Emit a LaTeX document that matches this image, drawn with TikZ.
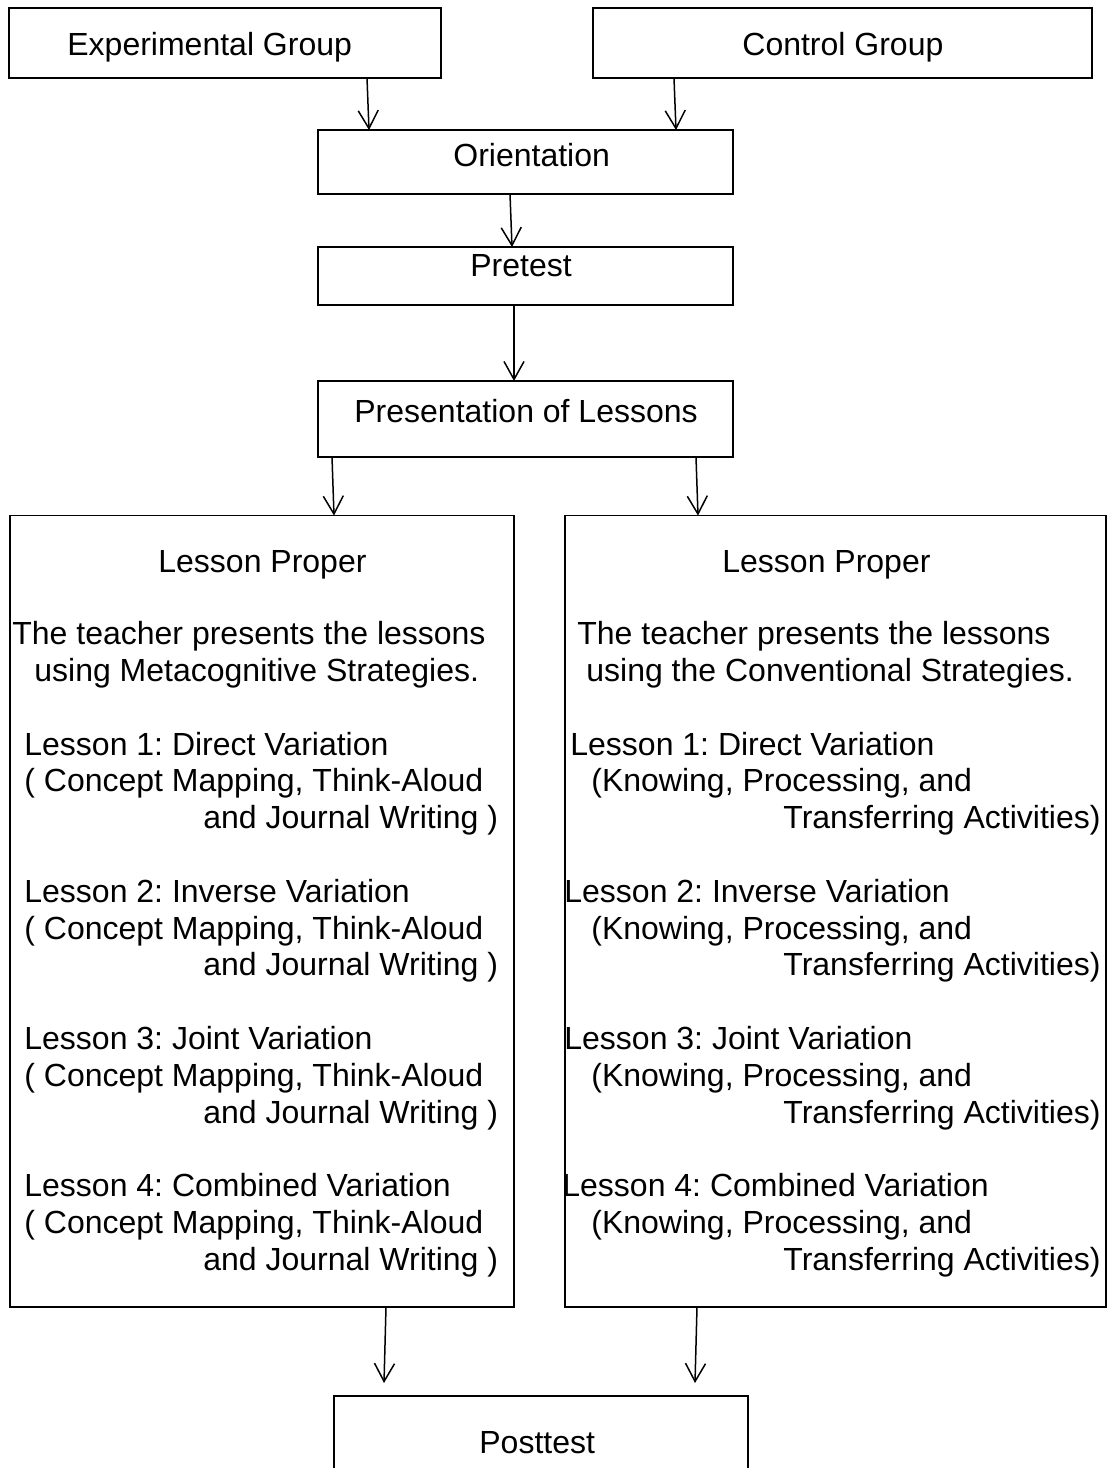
\documentclass[tikz,border=0pt]{standalone}
\usepackage{fontspec}
\setmainfont{Liberation Sans}
\frenchspacing
\usetikzlibrary{arrows.meta,calc}

\tikzset{
  box/.style={draw, line width=0.75pt, inner sep=0pt, outer sep=0pt},
  txt/.style={inner sep=0pt, anchor=base west, font=\fontsize{16}{18.4}\selectfont},
  arr/.style={line width=0.75pt, -{Straight Barb[length=9pt,width=10pt]}}
}

\begin{document}
\begin{tikzpicture}[x=0.5pt, y=-0.5pt]
  \useasboundingbox (0,0) rectangle (1108,1468);

  % boxes
  \node[box, minimum width=216pt,   minimum height=35pt] (expg)    at (225,43) {};
  \node[box, minimum width=249.5pt, minimum height=35pt] (ctrlg)   at (842.5,43) {};
  \node[box, minimum width=207.5pt, minimum height=32pt] (orient)  at (525.5,162) {};
  \node[box, minimum width=207.5pt, minimum height=29pt] (pretest) at (525.5,276) {};
  \node[box, minimum width=207.5pt, minimum height=38pt] (present) at (525.5,419) {};
  \node[box, minimum width=252pt,   minimum height=395.75pt] (expl)  at (262,911.25) {};
  \node[box, minimum width=270.5pt, minimum height=395.75pt] (ctrll) at (835.5,911.25) {};
  \node[box, minimum width=207pt,   minimum height=67pt] (post)    at (541,1463) {};

  % box texts
  \node[txt] (expg-t)    at (67,55)   {Experimental Group};
  \node[txt] (ctrlg-t)   at (742,55)  {Control Group};
  \node[txt] (orient-t)  at (453,166) {Orientation};
  \node[txt] (pretest-t) at (470,276) {Pretest};
  \node[txt] (present-t) at (354,422) {Presentation of Lessons};
  \node[txt] (post-t)    at (479,1453) {Posttest};

  \node[txt] (expl-h)  at (158,572)   {Lesson Proper};
  \node[txt] (expl-a)  at (12,644.5)  {The teacher presents the lessons};
  \node[txt] (expl-b)  at (34,681.3)  {using Metacognitive Strategies.};
  \node[txt] (ctrll-h) at (722,572)   {Lesson Proper};
  \node[txt] (ctrll-a) at (577,644.5) {The teacher presents the lessons};
  \node[txt] (ctrll-b) at (586,681.3) {using the Conventional Strategies.};

  % the four lessons
  \foreach \k/\title/\rx [count=\i from 0] in
      {1/Direct/570, 2/Inverse/564, 3/Joint/564, 4/Combined/562}{
    \node[txt] (expl-l\k)  at (24,{755+147.2*\i})  {Lesson \k: \title{} Variation};
    \node[txt] (expl-m\k)  at (24,{791.8+147.2*\i}) {( Concept Mapping, Think-Aloud};
    \node[txt] (expl-n\k)  at (203,{828.6+147.2*\i}) {and Journal Writing )};
    \node[txt] (ctrll-l\k) at (\rx,{755+147.2*\i})  {Lesson \k: \title{} Variation};
    \node[txt] (ctrll-m\k) at (591,{791.8+147.2*\i}) {(Knowing, Processing, and};
    \node[txt] (ctrll-n\k) at (783,{828.6+147.2*\i}) {Transferring Activities)};
  }

  % arrows
  \draw[arr] ($(expg.south west)+(358,0)$)    -- ($(orient.north west)+(51,0)$);
  \draw[arr] ($(ctrlg.south west)+(81,0)$)    -- ($(orient.north west)+(358,0)$);
  \draw[arr] ($(orient.south west)+(192,0)$)  -- ($(pretest.north west)+(194,0)$);
  \draw[arr] ($(pretest.south west)+(196,0)$) -- ($(present.north west)+(196,0)$);
  \draw[arr] ($(present.south west)+(14,0)$)  -- ($(expl.north west)+(324,0)$);
  \draw[arr] ($(present.south west)+(378,0)$) -- ($(ctrll.north west)+(133,0)$);
  \draw[arr] ($(expl.south west)+(376,0)$)    -- ($(post.north west)+(50,-13)$);
  \draw[arr] ($(ctrll.south west)+(132,0)$)   -- ($(post.north west)+(361,-13)$);
\end{tikzpicture}
\end{document}
